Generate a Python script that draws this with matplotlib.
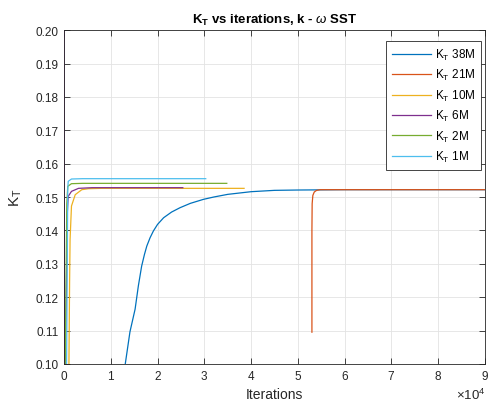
import matplotlib
matplotlib.use('Agg')
import matplotlib.pyplot as plt
import numpy as np

plt.rcParams['font.family'] = ['Liberation Sans', 'DejaVu Sans']
plt.rcParams['mathtext.fontset'] = 'custom'
plt.rcParams['mathtext.rm'] = 'Liberation Sans'
plt.rcParams['mathtext.it'] = 'Liberation Sans:italic'
plt.rcParams['mathtext.bf'] = 'Liberation Sans:bold'

# iterations in units of 1e4, K_T values
x_38m = [1.28, 1.31, 1.41, 1.52, 1.59, 1.66, 1.72, 1.77, 1.84, 1.91, 2.0, 2.13, 2.3, 2.48, 2.7,
         2.98, 3.2, 3.5, 4.0, 4.5, 5.0, 6.0, 9.0]
y_38m = [0.095, 0.1, 0.1096, 0.1164, 0.1234, 0.1293, 0.1328, 0.1353, 0.1378, 0.1398, 0.1418,
         0.1438, 0.1455, 0.1468, 0.1481, 0.1493, 0.1500, 0.1508, 0.1516, 0.1520, 0.1521,
         0.1522, 0.1522]

x_21m = [5.30, 5.30, 5.305, 5.32, 5.35, 5.40, 5.48, 9.0]
y_21m = [0.1095, 0.140, 0.148, 0.1505, 0.1515, 0.1520, 0.1522, 0.1522]

x_10m = [0.10, 0.12, 0.13, 0.16, 0.24, 0.38, 0.52, 0.8, 3.85]
y_10m = [0.09, 0.125, 0.1373, 0.1473, 0.1507, 0.1522, 0.1525, 0.1526, 0.1526]

x_6m = [0.0, 0.01, 0.05, 0.07, 0.09, 0.16, 0.31, 0.6, 2.54]
y_6m = [0.25, 0.09, 0.12, 0.145, 0.1502, 0.1517, 0.1526, 0.1528, 0.1528]

x_2m = [0.02, 0.04, 0.06, 0.08, 0.16, 0.4, 3.48]
y_2m = [0.09, 0.12, 0.148, 0.1532, 0.1540, 0.1541, 0.1541]

x_1m = [0.05, 0.07, 0.08, 0.09, 0.16, 0.4, 3.03]
y_1m = [0.09, 0.13, 0.152, 0.1547, 0.1554, 0.1555, 0.1555]

labels = ['K$_\\mathrm{T}$ 38M', 'K$_\\mathrm{T}$ 21M', 'K$_\\mathrm{T}$ 10M',
          'K$_\\mathrm{T}$ 6M', 'K$_\\mathrm{T}$ 2M', 'K$_\\mathrm{T}$ 1M']
colors = ['#0072BD', '#D95319', '#EDB120', '#7E2F8E', '#77AC30', '#4DBEEE']
series = [(x_38m, y_38m), (x_21m, y_21m), (x_10m, y_10m),
          (x_6m, y_6m), (x_2m, y_2m), (x_1m, y_1m)]

fig = plt.figure(figsize=(4.9, 4.1), dpi=100)
ax = fig.add_axes([0.1306, 0.110, 0.8592, 0.814])

for (xs, ys), c, lab in zip(series, colors, labels):
    ax.plot(np.array(xs) * 1e4, ys, color=c, lw=0.9, label=lab)

ax.set_xlim(0, 9e4)
ax.set_ylim(0.1, 0.2)
ax.set_xticks(np.arange(0, 9.1, 1) * 1e4)
ax.set_yticks(np.arange(0.1, 0.2001, 0.01))
ax.ticklabel_format(axis='x', style='sci', scilimits=(4, 4), useMathText=True)
ax.grid(True, color='#e3e3e3', lw=0.6)
ax.set_axisbelow(True)
ax.tick_params(direction='in', length=4, width=0.6, top=True, right=True,
               labelsize=8.5, colors='#262626', pad=4)
for s in ax.spines.values():
    s.set_color('#262626')
    s.set_linewidth(0.6)
ax.xaxis.get_offset_text().set_fontsize(9.5)

ax.set_title('K$_\\mathbf{T}$ vs iterations, k - $\\omega$ SST', fontsize=9.5,
             fontweight='bold', pad=5)
ax.set_xlabel('Iterations', fontsize=10, color='#262626', labelpad=3)
ax.set_ylabel('K$_\\mathrm{T}$', fontsize=11, color='#262626', labelpad=8)

leg = ax.legend(loc='upper right', fontsize=8.5, handlelength=3.3, labelspacing=0.45,
                fancybox=False, framealpha=1, edgecolor='#262626',
                borderaxespad=0.3, handletextpad=0.35, borderpad=0.5,
                bbox_to_anchor=(1.0, 0.978))
leg.get_frame().set_linewidth(0.6)

fig.savefig('out.png', dpi=100)
